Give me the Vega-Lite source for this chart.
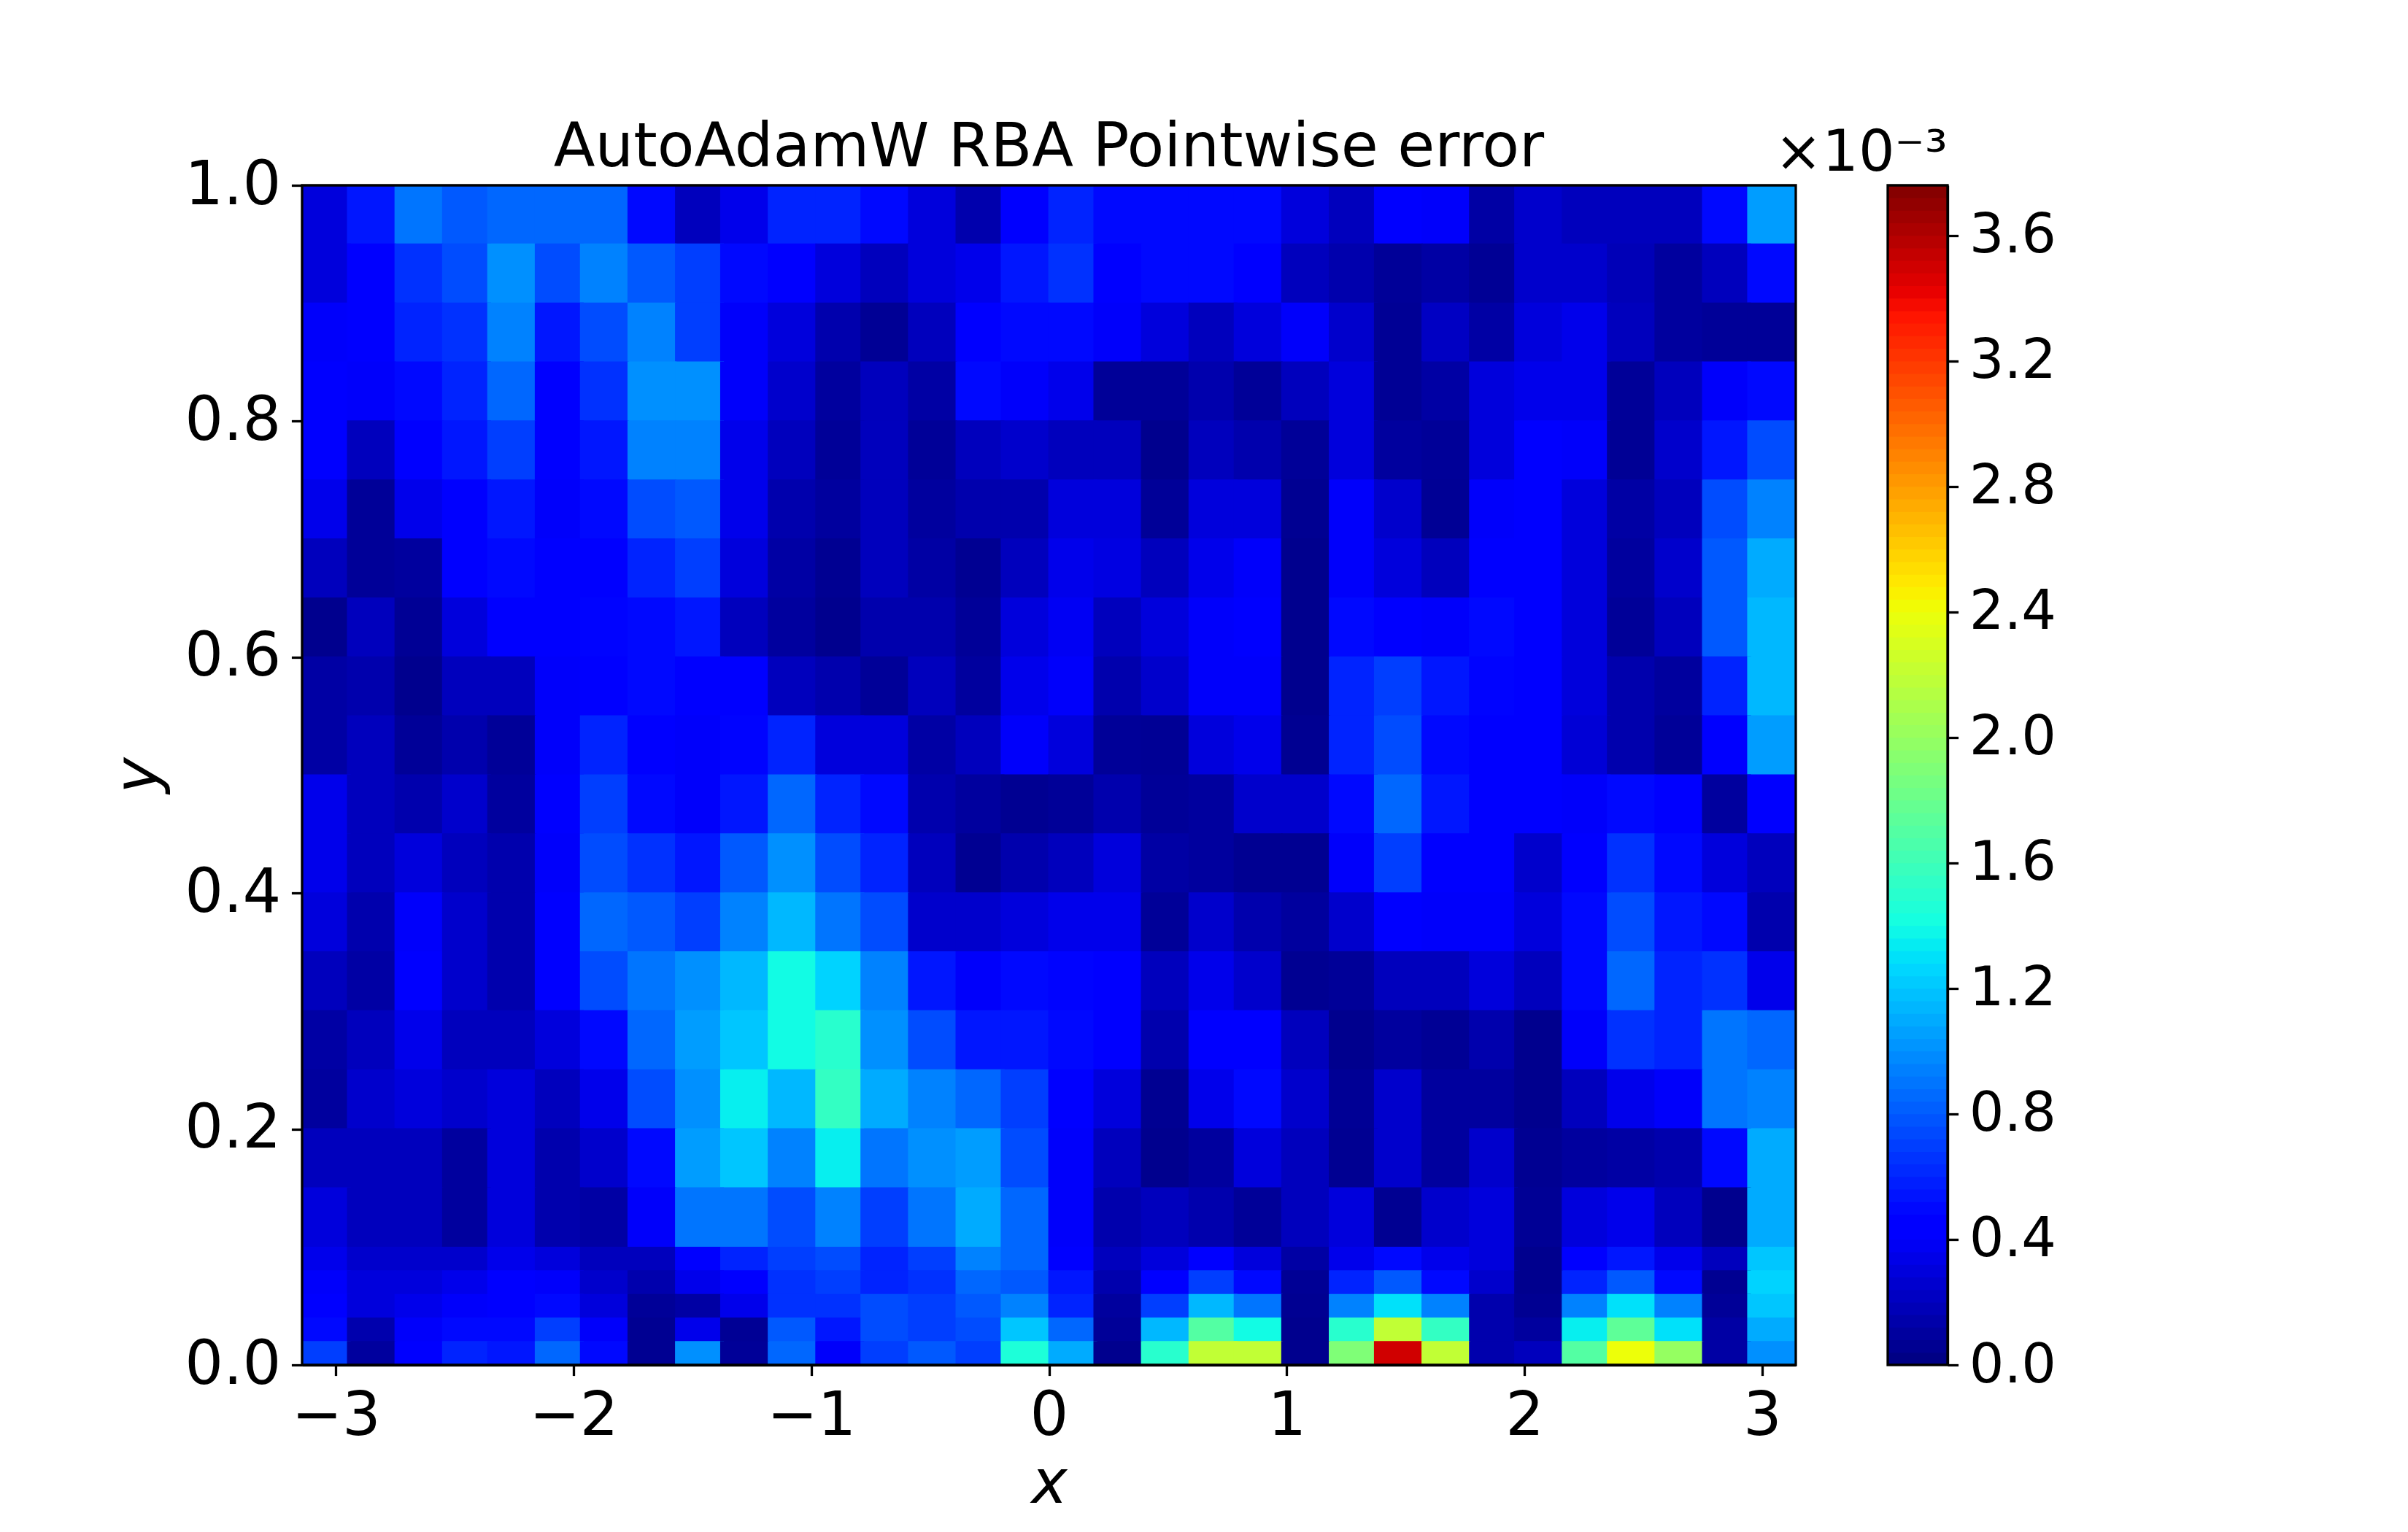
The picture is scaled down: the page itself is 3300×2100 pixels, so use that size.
{"$schema":"https://vega.github.io/schema/vega-lite/v6.json","background":"white","padding":{"left":149,"top":162,"right":20,"bottom":40},"spacing":-32,
"config":{"font":"DejaVu Sans","view":{"stroke":null},"title":{"font":"DejaVu Sans","fontWeight":"normal","color":"black"},"axis":{"labelFont":"DejaVu Sans","titleFont":"DejaVu Sans","labelColor":"black","titleColor":"black","tickColor":"black","domainColor":"black","tickWidth":3.3,"domainWidth":3.3,"tickSize":14.6,"grid":false,"labelOverlap":false,"labelFlush":false,"titleFontWeight":"normal","zindex":1}},
"datasets":{"coarse":[
{"x":-3.04,"y":0.975,"v":0.3},{"x":-2.85,"y":0.975,"v":0.55},{"x":-2.65,"y":0.975,"v":0.9},{"x":-2.45,"y":0.975,"v":0.8},{"x":-2.26,"y":0.975,"v":0.85},{"x":-2.06,"y":0.975,"v":0.85},{"x":-1.87,"y":0.975,"v":0.85},{"x":-1.67,"y":0.975,"v":0.5},{"x":-1.47,"y":0.975,"v":0.2},{"x":-1.28,"y":0.975,"v":0.35},{"x":-1.08,"y":0.975,"v":0.6},{"x":-0.88,"y":0.975,"v":0.6},{"x":-0.69,"y":0.975,"v":0.5},{"x":-0.49,"y":0.975,"v":0.3},{"x":-0.29,"y":0.975,"v":0.15},{"x":-0.1,"y":0.975,"v":0.45},{"x":0.1,"y":0.975,"v":0.6},{"x":0.29,"y":0.975,"v":0.5},{"x":0.49,"y":0.975,"v":0.5},{"x":0.69,"y":0.975,"v":0.5},{"x":0.88,"y":0.975,"v":0.5},{"x":1.08,"y":0.975,"v":0.3},{"x":1.28,"y":0.975,"v":0.2},{"x":1.47,"y":0.975,"v":0.45},{"x":1.67,"y":0.975,"v":0.4},{"x":1.87,"y":0.975,"v":0.12},{"x":2.06,"y":0.975,"v":0.25},{"x":2.26,"y":0.975,"v":0.2},{"x":2.45,"y":0.975,"v":0.2},{"x":2.65,"y":0.975,"v":0.2},{"x":2.85,"y":0.975,"v":0.5},{"x":3.04,"y":0.975,"v":1.05},
{"x":-3.04,"y":0.925,"v":0.3},{"x":-2.85,"y":0.925,"v":0.45},{"x":-2.65,"y":0.925,"v":0.65},{"x":-2.45,"y":0.925,"v":0.75},{"x":-2.26,"y":0.925,"v":1.0},{"x":-2.06,"y":0.925,"v":0.75},{"x":-1.87,"y":0.925,"v":0.95},{"x":-1.67,"y":0.925,"v":0.8},{"x":-1.47,"y":0.925,"v":0.7},{"x":-1.28,"y":0.925,"v":0.5},{"x":-1.08,"y":0.925,"v":0.45},{"x":-0.88,"y":0.925,"v":0.3},{"x":-0.69,"y":0.925,"v":0.2},{"x":-0.49,"y":0.925,"v":0.3},{"x":-0.29,"y":0.925,"v":0.35},{"x":-0.1,"y":0.925,"v":0.55},{"x":0.1,"y":0.925,"v":0.65},{"x":0.29,"y":0.925,"v":0.45},{"x":0.49,"y":0.925,"v":0.5},{"x":0.69,"y":0.925,"v":0.5},{"x":0.88,"y":0.925,"v":0.45},{"x":1.08,"y":0.925,"v":0.2},{"x":1.28,"y":0.925,"v":0.15},{"x":1.47,"y":0.925,"v":0.08},{"x":1.67,"y":0.925,"v":0.12},{"x":1.87,"y":0.925,"v":0.07},{"x":2.06,"y":0.925,"v":0.25},{"x":2.26,"y":0.925,"v":0.25},{"x":2.45,"y":0.925,"v":0.18},{"x":2.65,"y":0.925,"v":0.1},{"x":2.85,"y":0.925,"v":0.2},{"x":3.04,"y":0.925,"v":0.5},
{"x":-3.04,"y":0.875,"v":0.4},{"x":-2.85,"y":0.875,"v":0.45},{"x":-2.65,"y":0.875,"v":0.6},{"x":-2.45,"y":0.875,"v":0.65},{"x":-2.26,"y":0.875,"v":0.95},{"x":-2.06,"y":0.875,"v":0.55},{"x":-1.87,"y":0.875,"v":0.75},{"x":-1.67,"y":0.875,"v":0.95},{"x":-1.47,"y":0.875,"v":0.7},{"x":-1.28,"y":0.875,"v":0.4},{"x":-1.08,"y":0.875,"v":0.3},{"x":-0.88,"y":0.875,"v":0.15},{"x":-0.69,"y":0.875,"v":0.07},{"x":-0.49,"y":0.875,"v":0.2},{"x":-0.29,"y":0.875,"v":0.45},{"x":-0.1,"y":0.875,"v":0.5},{"x":0.1,"y":0.875,"v":0.5},{"x":0.29,"y":0.875,"v":0.4},{"x":0.49,"y":0.875,"v":0.3},{"x":0.69,"y":0.875,"v":0.2},{"x":0.88,"y":0.875,"v":0.3},{"x":1.08,"y":0.875,"v":0.4},{"x":1.28,"y":0.875,"v":0.25},{"x":1.47,"y":0.875,"v":0.07},{"x":1.67,"y":0.875,"v":0.22},{"x":1.87,"y":0.875,"v":0.12},{"x":2.06,"y":0.875,"v":0.3},{"x":2.26,"y":0.875,"v":0.35},{"x":2.45,"y":0.875,"v":0.2},{"x":2.65,"y":0.875,"v":0.1},{"x":2.85,"y":0.875,"v":0.08},{"x":3.04,"y":0.875,"v":0.08},
{"x":-3.04,"y":0.825,"v":0.45},{"x":-2.85,"y":0.825,"v":0.4},{"x":-2.65,"y":0.825,"v":0.5},{"x":-2.45,"y":0.825,"v":0.6},{"x":-2.26,"y":0.825,"v":0.85},{"x":-2.06,"y":0.825,"v":0.45},{"x":-1.87,"y":0.825,"v":0.65},{"x":-1.67,"y":0.825,"v":1.0},{"x":-1.47,"y":0.825,"v":1.0},{"x":-1.28,"y":0.825,"v":0.4},{"x":-1.08,"y":0.825,"v":0.25},{"x":-0.88,"y":0.825,"v":0.1},{"x":-0.69,"y":0.825,"v":0.2},{"x":-0.49,"y":0.825,"v":0.12},{"x":-0.29,"y":0.825,"v":0.5},{"x":-0.1,"y":0.825,"v":0.4},{"x":0.1,"y":0.825,"v":0.35},{"x":0.29,"y":0.825,"v":0.08},{"x":0.49,"y":0.825,"v":0.08},{"x":0.69,"y":0.825,"v":0.15},{"x":0.88,"y":0.825,"v":0.08},{"x":1.08,"y":0.825,"v":0.2},{"x":1.28,"y":0.825,"v":0.3},{"x":1.47,"y":0.825,"v":0.07},{"x":1.67,"y":0.825,"v":0.12},{"x":1.87,"y":0.825,"v":0.3},{"x":2.06,"y":0.825,"v":0.35},{"x":2.26,"y":0.825,"v":0.35},{"x":2.45,"y":0.825,"v":0.08},{"x":2.65,"y":0.825,"v":0.2},{"x":2.85,"y":0.825,"v":0.4},{"x":3.04,"y":0.825,"v":0.5},
{"x":-3.04,"y":0.775,"v":0.45},{"x":-2.85,"y":0.775,"v":0.2},{"x":-2.65,"y":0.775,"v":0.45},{"x":-2.45,"y":0.775,"v":0.55},{"x":-2.26,"y":0.775,"v":0.7},{"x":-2.06,"y":0.775,"v":0.45},{"x":-1.87,"y":0.775,"v":0.55},{"x":-1.67,"y":0.775,"v":0.95},{"x":-1.47,"y":0.775,"v":0.95},{"x":-1.28,"y":0.775,"v":0.35},{"x":-1.08,"y":0.775,"v":0.2},{"x":-0.88,"y":0.775,"v":0.08},{"x":-0.69,"y":0.775,"v":0.2},{"x":-0.49,"y":0.775,"v":0.08},{"x":-0.29,"y":0.775,"v":0.2},{"x":-0.1,"y":0.775,"v":0.25},{"x":0.1,"y":0.775,"v":0.2},{"x":0.29,"y":0.775,"v":0.2},{"x":0.49,"y":0.775,"v":0.05},{"x":0.69,"y":0.775,"v":0.2},{"x":0.88,"y":0.775,"v":0.15},{"x":1.08,"y":0.775,"v":0.08},{"x":1.28,"y":0.775,"v":0.3},{"x":1.47,"y":0.775,"v":0.1},{"x":1.67,"y":0.775,"v":0.08},{"x":1.87,"y":0.775,"v":0.3},{"x":2.06,"y":0.775,"v":0.45},{"x":2.26,"y":0.775,"v":0.4},{"x":2.45,"y":0.775,"v":0.07},{"x":2.65,"y":0.775,"v":0.25},{"x":2.85,"y":0.775,"v":0.55},{"x":3.04,"y":0.775,"v":0.75},
{"x":-3.04,"y":0.725,"v":0.35},{"x":-2.85,"y":0.725,"v":0.08},{"x":-2.65,"y":0.725,"v":0.35},{"x":-2.45,"y":0.725,"v":0.45},{"x":-2.26,"y":0.725,"v":0.55},{"x":-2.06,"y":0.725,"v":0.4},{"x":-1.87,"y":0.725,"v":0.5},{"x":-1.67,"y":0.725,"v":0.75},{"x":-1.47,"y":0.725,"v":0.8},{"x":-1.28,"y":0.725,"v":0.35},{"x":-1.08,"y":0.725,"v":0.15},{"x":-0.88,"y":0.725,"v":0.1},{"x":-0.69,"y":0.725,"v":0.2},{"x":-0.49,"y":0.725,"v":0.1},{"x":-0.29,"y":0.725,"v":0.15},{"x":-0.1,"y":0.725,"v":0.15},{"x":0.1,"y":0.725,"v":0.3},{"x":0.29,"y":0.725,"v":0.3},{"x":0.49,"y":0.725,"v":0.08},{"x":0.69,"y":0.725,"v":0.3},{"x":0.88,"y":0.725,"v":0.3},{"x":1.08,"y":0.725,"v":0.06},{"x":1.28,"y":0.725,"v":0.4},{"x":1.47,"y":0.725,"v":0.25},{"x":1.67,"y":0.725,"v":0.07},{"x":1.87,"y":0.725,"v":0.4},{"x":2.06,"y":0.725,"v":0.47},{"x":2.26,"y":0.725,"v":0.3},{"x":2.45,"y":0.725,"v":0.12},{"x":2.65,"y":0.725,"v":0.2},{"x":2.85,"y":0.725,"v":0.75},{"x":3.04,"y":0.725,"v":0.95},
{"x":-3.04,"y":0.675,"v":0.2},{"x":-2.85,"y":0.675,"v":0.08},{"x":-2.65,"y":0.675,"v":0.1},{"x":-2.45,"y":0.675,"v":0.45},{"x":-2.26,"y":0.675,"v":0.5},{"x":-2.06,"y":0.675,"v":0.42},{"x":-1.87,"y":0.675,"v":0.45},{"x":-1.67,"y":0.675,"v":0.6},{"x":-1.47,"y":0.675,"v":0.7},{"x":-1.28,"y":0.675,"v":0.3},{"x":-1.08,"y":0.675,"v":0.12},{"x":-0.88,"y":0.675,"v":0.06},{"x":-0.69,"y":0.675,"v":0.2},{"x":-0.49,"y":0.675,"v":0.12},{"x":-0.29,"y":0.675,"v":0.06},{"x":-0.1,"y":0.675,"v":0.2},{"x":0.1,"y":0.675,"v":0.35},{"x":0.29,"y":0.675,"v":0.32},{"x":0.49,"y":0.675,"v":0.2},{"x":0.69,"y":0.675,"v":0.35},{"x":0.88,"y":0.675,"v":0.4},{"x":1.08,"y":0.675,"v":0.05},{"x":1.28,"y":0.675,"v":0.4},{"x":1.47,"y":0.675,"v":0.3},{"x":1.67,"y":0.675,"v":0.2},{"x":1.87,"y":0.675,"v":0.45},{"x":2.06,"y":0.675,"v":0.45},{"x":2.26,"y":0.675,"v":0.3},{"x":2.45,"y":0.675,"v":0.1},{"x":2.65,"y":0.675,"v":0.25},{"x":2.85,"y":0.675,"v":0.8},{"x":3.04,"y":0.675,"v":1.1},
{"x":-3.04,"y":0.625,"v":0.05},{"x":-2.85,"y":0.625,"v":0.2},{"x":-2.65,"y":0.625,"v":0.07},{"x":-2.45,"y":0.625,"v":0.3},{"x":-2.26,"y":0.625,"v":0.45},{"x":-2.06,"y":0.625,"v":0.45},{"x":-1.87,"y":0.625,"v":0.48},{"x":-1.67,"y":0.625,"v":0.5},{"x":-1.47,"y":0.625,"v":0.55},{"x":-1.28,"y":0.625,"v":0.2},{"x":-1.08,"y":0.625,"v":0.1},{"x":-0.88,"y":0.625,"v":0.05},{"x":-0.69,"y":0.625,"v":0.15},{"x":-0.49,"y":0.625,"v":0.15},{"x":-0.29,"y":0.625,"v":0.08},{"x":-0.1,"y":0.625,"v":0.3},{"x":0.1,"y":0.625,"v":0.38},{"x":0.29,"y":0.625,"v":0.2},{"x":0.49,"y":0.625,"v":0.3},{"x":0.69,"y":0.625,"v":0.4},{"x":0.88,"y":0.625,"v":0.45},{"x":1.08,"y":0.625,"v":0.05},{"x":1.28,"y":0.625,"v":0.5},{"x":1.47,"y":0.625,"v":0.45},{"x":1.67,"y":0.625,"v":0.4},{"x":1.87,"y":0.625,"v":0.5},{"x":2.06,"y":0.625,"v":0.47},{"x":2.26,"y":0.625,"v":0.3},{"x":2.45,"y":0.625,"v":0.08},{"x":2.65,"y":0.625,"v":0.2},{"x":2.85,"y":0.625,"v":0.8},{"x":3.04,"y":0.625,"v":1.15},
{"x":-3.04,"y":0.575,"v":0.12},{"x":-2.85,"y":0.575,"v":0.15},{"x":-2.65,"y":0.575,"v":0.05},{"x":-2.45,"y":0.575,"v":0.2},{"x":-2.26,"y":0.575,"v":0.2},{"x":-2.06,"y":0.575,"v":0.4},{"x":-1.87,"y":0.575,"v":0.47},{"x":-1.67,"y":0.575,"v":0.5},{"x":-1.47,"y":0.575,"v":0.45},{"x":-1.28,"y":0.575,"v":0.45},{"x":-1.08,"y":0.575,"v":0.2},{"x":-0.88,"y":0.575,"v":0.15},{"x":-0.69,"y":0.575,"v":0.08},{"x":-0.49,"y":0.575,"v":0.2},{"x":-0.29,"y":0.575,"v":0.1},{"x":-0.1,"y":0.575,"v":0.35},{"x":0.1,"y":0.575,"v":0.4},{"x":0.29,"y":0.575,"v":0.15},{"x":0.49,"y":0.575,"v":0.25},{"x":0.69,"y":0.575,"v":0.4},{"x":0.88,"y":0.575,"v":0.4},{"x":1.08,"y":0.575,"v":0.05},{"x":1.28,"y":0.575,"v":0.6},{"x":1.47,"y":0.575,"v":0.7},{"x":1.67,"y":0.575,"v":0.55},{"x":1.87,"y":0.575,"v":0.48},{"x":2.06,"y":0.575,"v":0.45},{"x":2.26,"y":0.575,"v":0.3},{"x":2.45,"y":0.575,"v":0.15},{"x":2.65,"y":0.575,"v":0.1},{"x":2.85,"y":0.575,"v":0.6},{"x":3.04,"y":0.575,"v":1.15},
{"x":-3.04,"y":0.525,"v":0.12},{"x":-2.85,"y":0.525,"v":0.2},{"x":-2.65,"y":0.525,"v":0.08},{"x":-2.45,"y":0.525,"v":0.15},{"x":-2.26,"y":0.525,"v":0.08},{"x":-2.06,"y":0.525,"v":0.4},{"x":-1.87,"y":0.525,"v":0.6},{"x":-1.67,"y":0.525,"v":0.45},{"x":-1.47,"y":0.525,"v":0.4},{"x":-1.28,"y":0.525,"v":0.48},{"x":-1.08,"y":0.525,"v":0.6},{"x":-0.88,"y":0.525,"v":0.3},{"x":-0.69,"y":0.525,"v":0.3},{"x":-0.49,"y":0.525,"v":0.12},{"x":-0.29,"y":0.525,"v":0.2},{"x":-0.1,"y":0.525,"v":0.4},{"x":0.1,"y":0.525,"v":0.3},{"x":0.29,"y":0.525,"v":0.08},{"x":0.49,"y":0.525,"v":0.07},{"x":0.69,"y":0.525,"v":0.3},{"x":0.88,"y":0.525,"v":0.35},{"x":1.08,"y":0.525,"v":0.06},{"x":1.28,"y":0.525,"v":0.6},{"x":1.47,"y":0.525,"v":0.75},{"x":1.67,"y":0.525,"v":0.5},{"x":1.87,"y":0.525,"v":0.47},{"x":2.06,"y":0.525,"v":0.45},{"x":2.26,"y":0.525,"v":0.28},{"x":2.45,"y":0.525,"v":0.15},{"x":2.65,"y":0.525,"v":0.08},{"x":2.85,"y":0.525,"v":0.45},{"x":3.04,"y":0.525,"v":1.05},
{"x":-3.04,"y":0.475,"v":0.35},{"x":-2.85,"y":0.475,"v":0.2},{"x":-2.65,"y":0.475,"v":0.15},{"x":-2.45,"y":0.475,"v":0.25},{"x":-2.26,"y":0.475,"v":0.1},{"x":-2.06,"y":0.475,"v":0.45},{"x":-1.87,"y":0.475,"v":0.7},{"x":-1.67,"y":0.475,"v":0.5},{"x":-1.47,"y":0.475,"v":0.4},{"x":-1.28,"y":0.475,"v":0.55},{"x":-1.08,"y":0.475,"v":0.85},{"x":-0.88,"y":0.475,"v":0.6},{"x":-0.69,"y":0.475,"v":0.5},{"x":-0.49,"y":0.475,"v":0.15},{"x":-0.29,"y":0.475,"v":0.1},{"x":-0.1,"y":0.475,"v":0.06},{"x":0.1,"y":0.475,"v":0.08},{"x":0.29,"y":0.475,"v":0.15},{"x":0.49,"y":0.475,"v":0.08},{"x":0.69,"y":0.475,"v":0.1},{"x":0.88,"y":0.475,"v":0.25},{"x":1.08,"y":0.475,"v":0.25},{"x":1.28,"y":0.475,"v":0.5},{"x":1.47,"y":0.475,"v":0.85},{"x":1.67,"y":0.475,"v":0.55},{"x":1.87,"y":0.475,"v":0.45},{"x":2.06,"y":0.475,"v":0.45},{"x":2.26,"y":0.475,"v":0.4},{"x":2.45,"y":0.475,"v":0.5},{"x":2.65,"y":0.475,"v":0.45},{"x":2.85,"y":0.475,"v":0.1},{"x":3.04,"y":0.475,"v":0.45},
{"x":-3.04,"y":0.425,"v":0.35},{"x":-2.85,"y":0.425,"v":0.2},{"x":-2.65,"y":0.425,"v":0.3},{"x":-2.45,"y":0.425,"v":0.2},{"x":-2.26,"y":0.425,"v":0.15},{"x":-2.06,"y":0.425,"v":0.4},{"x":-1.87,"y":0.425,"v":0.75},{"x":-1.67,"y":0.425,"v":0.65},{"x":-1.47,"y":0.425,"v":0.55},{"x":-1.28,"y":0.425,"v":0.8},{"x":-1.08,"y":0.425,"v":1.0},{"x":-0.88,"y":0.425,"v":0.75},{"x":-0.69,"y":0.425,"v":0.6},{"x":-0.49,"y":0.425,"v":0.2},{"x":-0.29,"y":0.425,"v":0.06},{"x":-0.1,"y":0.425,"v":0.15},{"x":0.1,"y":0.425,"v":0.2},{"x":0.29,"y":0.425,"v":0.3},{"x":0.49,"y":0.425,"v":0.12},{"x":0.69,"y":0.425,"v":0.1},{"x":0.88,"y":0.425,"v":0.06},{"x":1.08,"y":0.425,"v":0.06},{"x":1.28,"y":0.425,"v":0.4},{"x":1.47,"y":0.425,"v":0.7},{"x":1.67,"y":0.425,"v":0.45},{"x":1.87,"y":0.425,"v":0.45},{"x":2.06,"y":0.425,"v":0.25},{"x":2.26,"y":0.425,"v":0.45},{"x":2.45,"y":0.425,"v":0.65},{"x":2.65,"y":0.425,"v":0.5},{"x":2.85,"y":0.425,"v":0.3},{"x":3.04,"y":0.425,"v":0.2},
{"x":-3.04,"y":0.375,"v":0.3},{"x":-2.85,"y":0.375,"v":0.15},{"x":-2.65,"y":0.375,"v":0.4},{"x":-2.45,"y":0.375,"v":0.25},{"x":-2.26,"y":0.375,"v":0.15},{"x":-2.06,"y":0.375,"v":0.42},{"x":-1.87,"y":0.375,"v":0.85},{"x":-1.67,"y":0.375,"v":0.8},{"x":-1.47,"y":0.375,"v":0.7},{"x":-1.28,"y":0.375,"v":0.95},{"x":-1.08,"y":0.375,"v":1.15},{"x":-0.88,"y":0.375,"v":0.9},{"x":-0.69,"y":0.375,"v":0.75},{"x":-0.49,"y":0.375,"v":0.25},{"x":-0.29,"y":0.375,"v":0.25},{"x":-0.1,"y":0.375,"v":0.3},{"x":0.1,"y":0.375,"v":0.35},{"x":0.29,"y":0.375,"v":0.35},{"x":0.49,"y":0.375,"v":0.08},{"x":0.69,"y":0.375,"v":0.25},{"x":0.88,"y":0.375,"v":0.15},{"x":1.08,"y":0.375,"v":0.1},{"x":1.28,"y":0.375,"v":0.25},{"x":1.47,"y":0.375,"v":0.45},{"x":1.67,"y":0.375,"v":0.4},{"x":1.87,"y":0.375,"v":0.4},{"x":2.06,"y":0.375,"v":0.3},{"x":2.26,"y":0.375,"v":0.5},{"x":2.45,"y":0.375,"v":0.75},{"x":2.65,"y":0.375,"v":0.55},{"x":2.85,"y":0.375,"v":0.5},{"x":3.04,"y":0.375,"v":0.15},
{"x":-3.04,"y":0.325,"v":0.2},{"x":-2.85,"y":0.325,"v":0.12},{"x":-2.65,"y":0.325,"v":0.42},{"x":-2.45,"y":0.325,"v":0.25},{"x":-2.26,"y":0.325,"v":0.15},{"x":-2.06,"y":0.325,"v":0.42},{"x":-1.87,"y":0.325,"v":0.75},{"x":-1.67,"y":0.325,"v":0.9},{"x":-1.47,"y":0.325,"v":1.0},{"x":-1.28,"y":0.325,"v":1.15},{"x":-1.08,"y":0.325,"v":1.4},{"x":-0.88,"y":0.325,"v":1.25},{"x":-0.69,"y":0.325,"v":0.95},{"x":-0.49,"y":0.325,"v":0.55},{"x":-0.29,"y":0.325,"v":0.4},{"x":-0.1,"y":0.325,"v":0.5},{"x":0.1,"y":0.325,"v":0.48},{"x":0.29,"y":0.325,"v":0.42},{"x":0.49,"y":0.325,"v":0.2},{"x":0.69,"y":0.325,"v":0.35},{"x":0.88,"y":0.325,"v":0.25},{"x":1.08,"y":0.325,"v":0.06},{"x":1.28,"y":0.325,"v":0.08},{"x":1.47,"y":0.325,"v":0.2},{"x":1.67,"y":0.325,"v":0.2},{"x":1.87,"y":0.325,"v":0.3},{"x":2.06,"y":0.325,"v":0.2},{"x":2.26,"y":0.325,"v":0.5},{"x":2.45,"y":0.325,"v":0.85},{"x":2.65,"y":0.325,"v":0.6},{"x":2.85,"y":0.325,"v":0.65},{"x":3.04,"y":0.325,"v":0.35},
{"x":-3.04,"y":0.275,"v":0.12},{"x":-2.85,"y":0.275,"v":0.2},{"x":-2.65,"y":0.275,"v":0.35},{"x":-2.45,"y":0.275,"v":0.2},{"x":-2.26,"y":0.275,"v":0.2},{"x":-2.06,"y":0.275,"v":0.3},{"x":-1.87,"y":0.275,"v":0.5},{"x":-1.67,"y":0.275,"v":0.85},{"x":-1.47,"y":0.275,"v":1.05},{"x":-1.28,"y":0.275,"v":1.2},{"x":-1.08,"y":0.275,"v":1.4},{"x":-0.88,"y":0.275,"v":1.5},{"x":-0.69,"y":0.275,"v":1.0},{"x":-0.49,"y":0.275,"v":0.75},{"x":-0.29,"y":0.275,"v":0.55},{"x":-0.1,"y":0.275,"v":0.55},{"x":0.1,"y":0.275,"v":0.5},{"x":0.29,"y":0.275,"v":0.42},{"x":0.49,"y":0.275,"v":0.15},{"x":0.69,"y":0.275,"v":0.42},{"x":0.88,"y":0.275,"v":0.45},{"x":1.08,"y":0.275,"v":0.2},{"x":1.28,"y":0.275,"v":0.05},{"x":1.47,"y":0.275,"v":0.1},{"x":1.67,"y":0.275,"v":0.07},{"x":1.87,"y":0.275,"v":0.15},{"x":2.06,"y":0.275,"v":0.05},{"x":2.26,"y":0.275,"v":0.4},{"x":2.45,"y":0.275,"v":0.65},{"x":2.65,"y":0.275,"v":0.6},{"x":2.85,"y":0.275,"v":0.9},{"x":3.04,"y":0.275,"v":0.85},
{"x":-3.04,"y":0.225,"v":0.1},{"x":-2.85,"y":0.225,"v":0.25},{"x":-2.65,"y":0.225,"v":0.3},{"x":-2.45,"y":0.225,"v":0.25},{"x":-2.26,"y":0.225,"v":0.3},{"x":-2.06,"y":0.225,"v":0.2},{"x":-1.87,"y":0.225,"v":0.35},{"x":-1.67,"y":0.225,"v":0.75},{"x":-1.47,"y":0.225,"v":1.0},{"x":-1.28,"y":0.225,"v":1.35},{"x":-1.08,"y":0.225,"v":1.15},{"x":-0.88,"y":0.225,"v":1.55},{"x":-0.69,"y":0.225,"v":1.1},{"x":-0.49,"y":0.225,"v":0.95},{"x":-0.29,"y":0.225,"v":0.85},{"x":-0.1,"y":0.225,"v":0.7},{"x":0.1,"y":0.225,"v":0.45},{"x":0.29,"y":0.225,"v":0.3},{"x":0.49,"y":0.225,"v":0.06},{"x":0.69,"y":0.225,"v":0.35},{"x":0.88,"y":0.225,"v":0.5},{"x":1.08,"y":0.225,"v":0.25},{"x":1.28,"y":0.225,"v":0.07},{"x":1.47,"y":0.225,"v":0.25},{"x":1.67,"y":0.225,"v":0.1},{"x":1.87,"y":0.225,"v":0.1},{"x":2.06,"y":0.225,"v":0.05},{"x":2.26,"y":0.225,"v":0.2},{"x":2.45,"y":0.225,"v":0.35},{"x":2.65,"y":0.225,"v":0.4},{"x":2.85,"y":0.225,"v":0.9},{"x":3.04,"y":0.225,"v":0.95},
{"x":-3.04,"y":0.175,"v":0.2},{"x":-2.85,"y":0.175,"v":0.2},{"x":-2.65,"y":0.175,"v":0.2},{"x":-2.45,"y":0.175,"v":0.1},{"x":-2.26,"y":0.175,"v":0.3},{"x":-2.06,"y":0.175,"v":0.15},{"x":-1.87,"y":0.175,"v":0.25},{"x":-1.67,"y":0.175,"v":0.5},{"x":-1.47,"y":0.175,"v":1.05},{"x":-1.28,"y":0.175,"v":1.2},{"x":-1.08,"y":0.175,"v":0.95},{"x":-0.88,"y":0.175,"v":1.35},{"x":-0.69,"y":0.175,"v":0.9},{"x":-0.49,"y":0.175,"v":1.0},{"x":-0.29,"y":0.175,"v":1.05},{"x":-0.1,"y":0.175,"v":0.75},{"x":0.1,"y":0.175,"v":0.4},{"x":0.29,"y":0.175,"v":0.2},{"x":0.49,"y":0.175,"v":0.05},{"x":0.69,"y":0.175,"v":0.1},{"x":0.88,"y":0.175,"v":0.3},{"x":1.08,"y":0.175,"v":0.2},{"x":1.28,"y":0.175,"v":0.06},{"x":1.47,"y":0.175,"v":0.25},{"x":1.67,"y":0.175,"v":0.1},{"x":1.87,"y":0.175,"v":0.25},{"x":2.06,"y":0.175,"v":0.06},{"x":2.26,"y":0.175,"v":0.1},{"x":2.45,"y":0.175,"v":0.12},{"x":2.65,"y":0.175,"v":0.15},{"x":2.85,"y":0.175,"v":0.5},{"x":3.04,"y":0.175,"v":1.1},
{"x":-3.04,"y":0.125,"v":0.3},{"x":-2.85,"y":0.125,"v":0.2},{"x":-2.65,"y":0.125,"v":0.2},{"x":-2.45,"y":0.125,"v":0.1},{"x":-2.26,"y":0.125,"v":0.3},{"x":-2.06,"y":0.125,"v":0.15},{"x":-1.87,"y":0.125,"v":0.12},{"x":-1.67,"y":0.125,"v":0.4},{"x":-1.47,"y":0.125,"v":0.9},{"x":-1.28,"y":0.125,"v":0.9},{"x":-1.08,"y":0.125,"v":0.75},{"x":-0.88,"y":0.125,"v":0.95},{"x":-0.69,"y":0.125,"v":0.7},{"x":-0.49,"y":0.125,"v":0.9},{"x":-0.29,"y":0.125,"v":1.1},{"x":-0.1,"y":0.125,"v":0.85},{"x":0.1,"y":0.125,"v":0.4},{"x":0.29,"y":0.125,"v":0.15},{"x":0.49,"y":0.125,"v":0.2},{"x":0.69,"y":0.125,"v":0.15},{"x":0.88,"y":0.125,"v":0.08},{"x":1.08,"y":0.125,"v":0.2},{"x":1.28,"y":0.125,"v":0.3},{"x":1.47,"y":0.125,"v":0.06},{"x":1.67,"y":0.125,"v":0.25},{"x":1.87,"y":0.125,"v":0.3},{"x":2.06,"y":0.125,"v":0.07},{"x":2.26,"y":0.125,"v":0.3},{"x":2.45,"y":0.125,"v":0.35},{"x":2.65,"y":0.125,"v":0.2},{"x":2.85,"y":0.125,"v":0.05},{"x":3.04,"y":0.125,"v":1.1}
],"fine":[
{"x":-3.04,"y":0.09,"v":0.35},{"x":-2.85,"y":0.09,"v":0.25},{"x":-2.65,"y":0.09,"v":0.25},{"x":-2.45,"y":0.09,"v":0.25},{"x":-2.26,"y":0.09,"v":0.35},{"x":-2.06,"y":0.09,"v":0.3},{"x":-1.87,"y":0.09,"v":0.2},{"x":-1.67,"y":0.09,"v":0.2},{"x":-1.47,"y":0.09,"v":0.45},{"x":-1.28,"y":0.09,"v":0.6},{"x":-1.08,"y":0.09,"v":0.7},{"x":-0.88,"y":0.09,"v":0.75},{"x":-0.69,"y":0.09,"v":0.6},{"x":-0.49,"y":0.09,"v":0.7},{"x":-0.29,"y":0.09,"v":0.95},{"x":-0.1,"y":0.09,"v":0.85},{"x":0.1,"y":0.09,"v":0.45},{"x":0.29,"y":0.09,"v":0.2},{"x":0.49,"y":0.09,"v":0.3},{"x":0.69,"y":0.09,"v":0.45},{"x":0.88,"y":0.09,"v":0.3},{"x":1.08,"y":0.09,"v":0.12},{"x":1.28,"y":0.09,"v":0.35},{"x":1.47,"y":0.09,"v":0.5},{"x":1.67,"y":0.09,"v":0.35},{"x":1.87,"y":0.09,"v":0.3},{"x":2.06,"y":0.09,"v":0.05},{"x":2.26,"y":0.09,"v":0.45},{"x":2.45,"y":0.09,"v":0.55},{"x":2.65,"y":0.09,"v":0.35},{"x":2.85,"y":0.09,"v":0.2},{"x":3.04,"y":0.09,"v":1.2},
{"x":-3.04,"y":0.07,"v":0.4},{"x":-2.85,"y":0.07,"v":0.3},{"x":-2.65,"y":0.07,"v":0.3},{"x":-2.45,"y":0.07,"v":0.35},{"x":-2.26,"y":0.07,"v":0.42},{"x":-2.06,"y":0.07,"v":0.4},{"x":-1.87,"y":0.07,"v":0.25},{"x":-1.67,"y":0.07,"v":0.15},{"x":-1.47,"y":0.07,"v":0.35},{"x":-1.28,"y":0.07,"v":0.45},{"x":-1.08,"y":0.07,"v":0.65},{"x":-0.88,"y":0.07,"v":0.7},{"x":-0.69,"y":0.07,"v":0.6},{"x":-0.49,"y":0.07,"v":0.65},{"x":-0.29,"y":0.07,"v":0.85},{"x":-0.1,"y":0.07,"v":0.8},{"x":0.1,"y":0.07,"v":0.55},{"x":0.29,"y":0.07,"v":0.15},{"x":0.49,"y":0.07,"v":0.45},{"x":0.69,"y":0.07,"v":0.7},{"x":0.88,"y":0.07,"v":0.5},{"x":1.08,"y":0.07,"v":0.07},{"x":1.28,"y":0.07,"v":0.6},{"x":1.47,"y":0.07,"v":0.8},{"x":1.67,"y":0.07,"v":0.5},{"x":1.87,"y":0.07,"v":0.25},{"x":2.06,"y":0.07,"v":0.05},{"x":2.26,"y":0.07,"v":0.6},{"x":2.45,"y":0.07,"v":0.8},{"x":2.65,"y":0.07,"v":0.5},{"x":2.85,"y":0.07,"v":0.06},{"x":3.04,"y":0.07,"v":1.25},
{"x":-3.04,"y":0.05,"v":0.45},{"x":-2.85,"y":0.05,"v":0.3},{"x":-2.65,"y":0.05,"v":0.35},{"x":-2.45,"y":0.05,"v":0.4},{"x":-2.26,"y":0.05,"v":0.45},{"x":-2.06,"y":0.05,"v":0.5},{"x":-1.87,"y":0.05,"v":0.3},{"x":-1.67,"y":0.05,"v":0.08},{"x":-1.47,"y":0.05,"v":0.12},{"x":-1.28,"y":0.05,"v":0.35},{"x":-1.08,"y":0.05,"v":0.65},{"x":-0.88,"y":0.05,"v":0.65},{"x":-0.69,"y":0.05,"v":0.75},{"x":-0.49,"y":0.05,"v":0.7},{"x":-0.29,"y":0.05,"v":0.8},{"x":-0.1,"y":0.05,"v":0.95},{"x":0.1,"y":0.05,"v":0.6},{"x":0.29,"y":0.05,"v":0.1},{"x":0.49,"y":0.05,"v":0.7},{"x":0.69,"y":0.05,"v":1.15},{"x":0.88,"y":0.05,"v":0.9},{"x":1.08,"y":0.05,"v":0.06},{"x":1.28,"y":0.05,"v":0.95},{"x":1.47,"y":0.05,"v":1.3},{"x":1.67,"y":0.05,"v":0.95},{"x":1.87,"y":0.05,"v":0.15},{"x":2.06,"y":0.05,"v":0.06},{"x":2.26,"y":0.05,"v":0.95},{"x":2.45,"y":0.05,"v":1.3},{"x":2.65,"y":0.05,"v":0.95},{"x":2.85,"y":0.05,"v":0.08},{"x":3.04,"y":0.05,"v":1.2},
{"x":-3.04,"y":0.03,"v":0.5},{"x":-2.85,"y":0.03,"v":0.15},{"x":-2.65,"y":0.03,"v":0.4},{"x":-2.45,"y":0.03,"v":0.5},{"x":-2.26,"y":0.03,"v":0.5},{"x":-2.06,"y":0.03,"v":0.7},{"x":-1.87,"y":0.03,"v":0.4},{"x":-1.67,"y":0.03,"v":0.06},{"x":-1.47,"y":0.03,"v":0.35},{"x":-1.28,"y":0.03,"v":0.07},{"x":-1.08,"y":0.03,"v":0.8},{"x":-0.88,"y":0.03,"v":0.55},{"x":-0.69,"y":0.03,"v":0.75},{"x":-0.49,"y":0.03,"v":0.7},{"x":-0.29,"y":0.03,"v":0.75},{"x":-0.1,"y":0.03,"v":1.2},{"x":0.1,"y":0.03,"v":0.85},{"x":0.29,"y":0.03,"v":0.08},{"x":0.49,"y":0.03,"v":1.15},{"x":0.69,"y":0.03,"v":1.7},{"x":0.88,"y":0.03,"v":1.4},{"x":1.08,"y":0.03,"v":0.05},{"x":1.28,"y":0.03,"v":1.5},{"x":1.47,"y":0.03,"v":2.2},{"x":1.67,"y":0.03,"v":1.55},{"x":1.87,"y":0.03,"v":0.15},{"x":2.06,"y":0.03,"v":0.1},{"x":2.26,"y":0.03,"v":1.35},{"x":2.45,"y":0.03,"v":1.75},{"x":2.65,"y":0.03,"v":1.3},{"x":2.85,"y":0.03,"v":0.12},{"x":3.04,"y":0.03,"v":1.1},
{"x":-3.04,"y":0.01,"v":0.7},{"x":-2.85,"y":0.01,"v":0.1},{"x":-2.65,"y":0.01,"v":0.45},{"x":-2.45,"y":0.01,"v":0.6},{"x":-2.26,"y":0.01,"v":0.55},{"x":-2.06,"y":0.01,"v":0.85},{"x":-1.87,"y":0.01,"v":0.5},{"x":-1.67,"y":0.01,"v":0.06},{"x":-1.47,"y":0.01,"v":1.0},{"x":-1.28,"y":0.01,"v":0.08},{"x":-1.08,"y":0.01,"v":0.85},{"x":-0.88,"y":0.01,"v":0.4},{"x":-0.69,"y":0.01,"v":0.7},{"x":-0.49,"y":0.01,"v":0.8},{"x":-0.29,"y":0.01,"v":0.7},{"x":-0.1,"y":0.01,"v":1.45},{"x":0.1,"y":0.01,"v":1.1},{"x":0.29,"y":0.01,"v":0.05},{"x":0.49,"y":0.01,"v":1.5},{"x":0.69,"y":0.01,"v":2.2},{"x":0.88,"y":0.01,"v":2.2},{"x":1.08,"y":0.01,"v":0.05},{"x":1.28,"y":0.01,"v":1.9},{"x":1.47,"y":0.01,"v":3.5},{"x":1.67,"y":0.01,"v":2.2},{"x":1.87,"y":0.01,"v":0.15},{"x":2.06,"y":0.01,"v":0.2},{"x":2.26,"y":0.01,"v":1.7},{"x":2.45,"y":0.01,"v":2.4},{"x":2.65,"y":0.01,"v":2.0},{"x":2.85,"y":0.01,"v":0.12},{"x":3.04,"y":0.01,"v":1.0}
],"bar":[{"v":0.02},{"v":0.06},{"v":0.1},{"v":0.14},{"v":0.18},{"v":0.22},{"v":0.26},{"v":0.3},{"v":0.34},{"v":0.38},{"v":0.42},{"v":0.46},{"v":0.5},{"v":0.54},{"v":0.58},{"v":0.62},{"v":0.66},{"v":0.7},{"v":0.74},{"v":0.78},{"v":0.82},{"v":0.86},{"v":0.9},{"v":0.94},{"v":0.98},{"v":1.02},{"v":1.06},{"v":1.1},{"v":1.14},{"v":1.18},{"v":1.22},{"v":1.26},{"v":1.3},{"v":1.34},{"v":1.38},{"v":1.42},{"v":1.46},{"v":1.5},{"v":1.54},{"v":1.58},{"v":1.62},{"v":1.66},{"v":1.7},{"v":1.74},{"v":1.78},{"v":1.82},{"v":1.86},{"v":1.9},{"v":1.94},{"v":1.98},{"v":2.02},{"v":2.06},{"v":2.1},{"v":2.14},{"v":2.18},{"v":2.22},{"v":2.26},{"v":2.3},{"v":2.34},{"v":2.38},{"v":2.42},{"v":2.46},{"v":2.5},{"v":2.54},{"v":2.58},{"v":2.62},{"v":2.66},{"v":2.7},{"v":2.74},{"v":2.78},{"v":2.82},{"v":2.86},{"v":2.9},{"v":2.94},{"v":2.98},{"v":3.02},{"v":3.06},{"v":3.1},{"v":3.14},{"v":3.18},{"v":3.22},{"v":3.26},{"v":3.3},{"v":3.34},{"v":3.38},{"v":3.42},{"v":3.46},{"v":3.5},{"v":3.54},{"v":3.58},{"v":3.62},{"v":3.66},{"v":3.7},{"v":3.74}]},
"hconcat":[
{"width":2047,"height":1617,"title":{"text":"AutoAdamW RBA Pointwise error","fontSize":83,"anchor":"middle","frame":"group","offset":-32},
"layer":[
{"data":{"name":"coarse"},"mark":{"type":"rect","width":67,"height":83,"clip":true},"encoding":{
"x":{"field":"x","type":"quantitative","scale":{"domain":[-3.14159,3.14159],"nice":false,"zero":false},"axis":{"values":[-3,-2,-1,0,1,2,3],"format":"d","title":"x","titleFontStyle":"italic","labelFontSize":83,"titleFontSize":83,"labelPadding":14.6,"titlePadding":10}},
"y":{"field":"y","type":"quantitative","scale":{"domain":[0,1],"nice":false,"zero":false},"axis":{"values":[0,0.2,0.4,0.6,0.8,1],"format":".1f","title":"y","titleFontStyle":"italic","labelFontSize":83,"titleFontSize":83,"labelPadding":14.6,"titlePadding":20}},
"color":{"field":"v","type":"quantitative","legend":null,"scale":{"domain":[0,0.414,0.47,1.278,1.316,1.41,2.406,2.444,2.482,3.346,3.422,3.76],"range":["#00007f","#0000ff","#0000ff","#00dbff","#00e6f7","#14ffe2","#eeff08","#f7f500","#ffec00","#ff1300","#e80000","#800000"],"interpolate":"rgb"}}}},
{"data":{"name":"fine"},"mark":{"type":"rect","width":67,"height":33,"clip":true},"encoding":{
"x":{"field":"x","type":"quantitative"},"y":{"field":"y","type":"quantitative"},"color":{"field":"v","type":"quantitative"}}},
{"data":{"values":[{"f":1}]},"mark":{"type":"rect","fill":null,"stroke":"black","strokeWidth":3.3},"encoding":{}}
]},
{"width":82,"height":1617,"title":{"text":"×10⁻³","fontSize":78,"anchor":"end","frame":"group","offset":2},
"layer":[
{"data":{"name":"bar"},"mark":{"type":"rect","height":18,"clip":true},"encoding":{
"y":{"field":"v","type":"quantitative","scale":{"domain":[0,3.76],"nice":false,"zero":false},"axis":{"orient":"right","values":[0,0.4,0.8,1.2,1.6,2.0,2.4,2.8,3.2,3.6],"format":".1f","title":null,"labelFontSize":75,"labelPadding":14.6}},
"color":{"field":"v","type":"quantitative","legend":null}}},
{"data":{"values":[{"f":1}]},"mark":{"type":"rect","fill":null,"stroke":"black","strokeWidth":3.3},"encoding":{}}
]}
]}
